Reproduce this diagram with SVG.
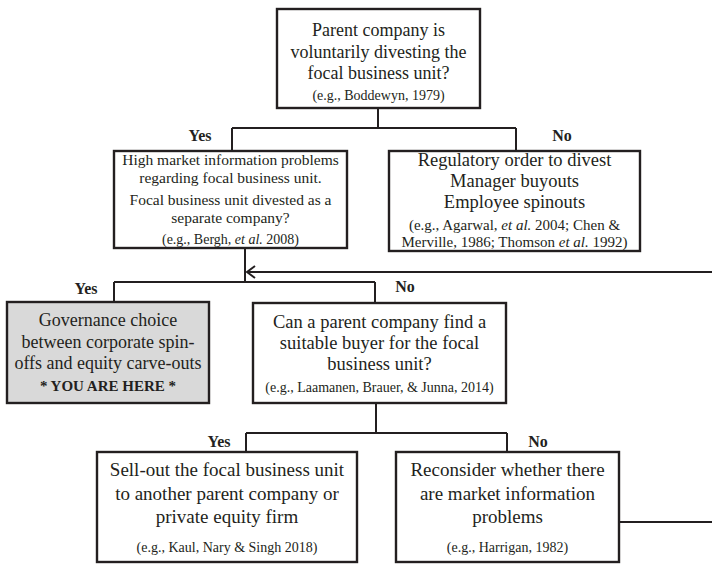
<svg xmlns="http://www.w3.org/2000/svg" width="712" height="571" viewBox="0 0 712 571">
<style>
.box{fill:#fff;stroke:#231f20;stroke-width:2.4}
.gray{fill:#d9d9d9;stroke:#231f20;stroke-width:2.4}
.ln{fill:none;stroke:#231f20;stroke-width:2}
text{font-family:"Liberation Serif","Times New Roman",serif;fill:#231f20;text-anchor:middle}
.t{font-size:18px}
.t2{font-size:18.5px}
.t3{font-size:19px}
.c{font-size:14px}
.c2{font-size:15px}
.m{font-size:15.5px}
.lbl{font-size:16px;font-weight:bold}
.b{font-weight:bold;font-size:15px}
</style>
<rect width="712" height="571" fill="#fff"/>
<g id="connectors">
<path class="ln" d="M378,108 V128 M232,128 H516 M232,128 V151 M516,128 V151"/>
<path class="ln" d="M245,248 V282 M114,282 H375 M114,282 V302 M375,282 V303"/>
<path class="ln" d="M712,272 H247 M255,266 L247,272 L255,278"/>
<path class="ln" d="M376,403 V433 M246,433 H507 M246,433 V452 M507,433 V452"/>
<path class="ln" d="M619,522 H712"/>
<text class="lbl" x="200" y="141">Yes</text>
<text class="lbl" x="562" y="141">No</text>
<text class="lbl" x="86" y="294">Yes</text>
<text class="lbl" x="405" y="292">No</text>
<text class="lbl" x="219" y="447">Yes</text>
<text class="lbl" x="538" y="447">No</text>
</g>
<g id="n1">
<rect class="box" x="277" y="9" width="203" height="99"/>
<text class="t" x="378.5" y="36">Parent company is</text>
<text class="t" x="378.5" y="58">voluntarily divesting the</text>
<text class="t" x="378.5" y="79">focal business unit?</text>
<text class="c" x="378.5" y="100">(e.g., Boddewyn, 1979)</text>
</g>
<g id="n2">
<rect class="box" x="114" y="151" width="233" height="97"/>
<text class="m" x="230.5" y="165">High market information problems</text>
<text class="m" x="230.5" y="183">regarding focal business unit.</text>
<text class="m" x="230.5" y="205">Focal business unit divested as a</text>
<text class="m" x="230.5" y="223">separate company?</text>
<text class="c" x="230.5" y="244">(e.g., Bergh, <tspan font-style="italic">et al.</tspan> 2008)</text>
</g>
<g id="n3">
<rect class="box" x="389" y="151" width="251" height="100"/>
<text class="t2" x="514.5" y="166">Regulatory order to divest</text>
<text class="t2" x="514.5" y="187">Manager buyouts</text>
<text class="t2" x="514.5" y="208">Employee spinouts</text>
<text class="c2" x="514.5" y="230">(e.g., Agarwal, <tspan font-style="italic">et al.</tspan> 2004; Chen &amp;</text>
<text class="c2" x="514.5" y="247">Merville, 1986; Thomson <tspan font-style="italic">et al.</tspan> 1992)</text>
</g>
<g id="n4">
<rect class="gray" x="7" y="302" width="202" height="101"/>
<text class="t" x="108" y="326">Governance choice</text>
<text class="t" x="108" y="348">between corporate spin-</text>
<text class="t" x="108" y="369">offs and equity carve-outs</text>
<text class="b" x="108" y="391">* YOU ARE HERE *</text>
</g>
<g id="n5">
<rect class="box" x="253" y="303" width="253" height="100"/>
<text class="t2" x="379.5" y="328">Can a parent company find a</text>
<text class="t2" x="379.5" y="349">suitable buyer for the focal</text>
<text class="t2" x="379.5" y="370">business unit?</text>
<text class="c" x="379.5" y="392">(e.g., Laamanen, Brauer, &amp; Junna, 2014)</text>
</g>
<g id="n6">
<rect class="box" x="97" y="452" width="260" height="110"/>
<text class="t3" x="227" y="476">Sell-out the focal business unit</text>
<text class="t3" x="227" y="500">to another parent company or</text>
<text class="t3" x="227" y="523">private equity firm</text>
<text class="c" x="227" y="552">(e.g., Kaul, Nary &amp; Singh 2018)</text>
</g>
<g id="n7">
<rect class="box" x="396" y="452" width="223" height="110"/>
<text class="t3" x="507.5" y="476">Reconsider whether there</text>
<text class="t3" x="507.5" y="500">are market information</text>
<text class="t3" x="507.5" y="523">problems</text>
<text class="c" x="507.5" y="552">(e.g., Harrigan, 1982)</text>
</g>
</svg>
